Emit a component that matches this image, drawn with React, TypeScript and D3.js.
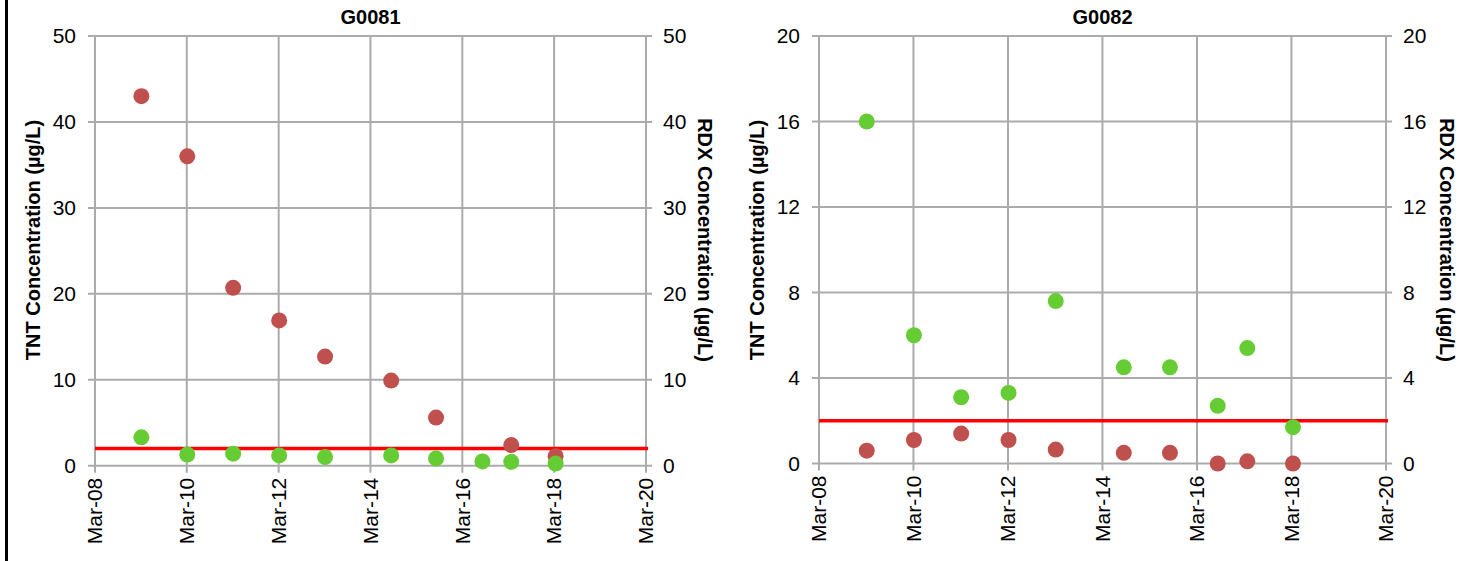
import React from "react";
import * as d3 from "d3";

// Sampling events shared by both wells
const sampleDates = [
  "2009-03-05", "2010-03-05", "2011-03-05", "2012-03-05", "2013-03-05",
  "2014-08-13", "2015-08-05", "2016-08-08", "2017-03-25", "2018-03-13",
];

// G0081 concentrations (µg/L); null = not sampled
const g0081Tnt: (number | null)[] = [43.0, 36.0, 20.7, 16.9, 12.7, 9.9, 5.6, null, 2.4, 1.1];
const g0081Rdx: (number | null)[] = [3.3, 1.3, 1.4, 1.2, 1.0, 1.2, 0.85, 0.5, 0.45, 0.25];

// G0082 concentrations (µg/L)
const g0082Tnt: (number | null)[] = [0.6, 1.1, 1.4, 1.1, 0.65, 0.5, 0.5, 0.0, 0.1, 0.0];
const g0082Rdx: (number | null)[] = [16.0, 6.0, 3.1, 3.3, 7.6, 4.5, 4.5, 2.7, 5.4, 1.7];

// Axis ticks
const tickYears = [2008, 2010, 2012, 2014, 2016, 2018, 2020];
const g0081YTicks = [0, 10, 20, 30, 40, 50];
const g0082YTicks = [0, 4, 8, 12, 16, 20];

// Screening level drawn as a horizontal reference line (µg/L)
const screeningLevel = 2;

const FONT = "'Liberation Sans', Arial, Helvetica, sans-serif";
const GRID = "#ababab";
const RED = "#C0504D";
const GREEN = "#66CC33";
const TICK_FS = 21;

type PanelProps = {
  title: string;
  x0: number;
  x1: number;
  yTop: number;
  yBottom: number;
  yTicks: number[];
  tnt: (number | null)[];
  rdx: (number | null)[];
  leftLabelX: number;
  rightLabelX: number;
};

function Panel({ title, x0, x1, yTop, yBottom, yTicks, tnt, rdx, leftLabelX, rightLabelX }: PanelProps) {
  const parse = d3.utcParse("%Y-%m-%d");
  const dates = sampleDates.map((s) => parse(s) as Date);
  const tickDates = tickYears.map((y) => new Date(Date.UTC(y, 2, 1)));
  const fmt = d3.utcFormat("%b-%y");

  const x = d3
    .scaleUtc()
    .domain([tickDates[0], tickDates[tickDates.length - 1]])
    .range([x0, x1]);
  const y = d3
    .scaleLinear()
    .domain([yTicks[0], yTicks[yTicks.length - 1]])
    .range([yBottom, yTop]);

  const midY = 240;

  const dots = (vals: (number | null)[], color: string, key: string) =>
    vals.map((v, i) =>
      v == null ? null : (
        <circle key={key + i} cx={x(dates[i])} cy={y(v)} r={8} fill={color} />
      )
    );

  return (
    <g>
      {/* horizontal gridlines + y ticks on both sides */}
      {yTicks.map((t) => (
        <g key={"h" + t}>
          <line x1={x0 - 7} x2={x1 + 6} y1={y(t)} y2={y(t)} stroke={GRID} strokeWidth={2} />
          <text x={x0 - 19} y={y(t)} dy="0.35em" textAnchor="end" fontSize={TICK_FS} fontFamily={FONT} fill="#000">
            {t}
          </text>
          <text x={x1 + 17} y={y(t)} dy="0.35em" textAnchor="start" fontSize={TICK_FS} fontFamily={FONT} fill="#000">
            {t}
          </text>
        </g>
      ))}
      {/* vertical gridlines + date ticks */}
      {tickDates.map((d, i) => (
        <g key={"v" + i}>
          <line x1={x(d)} x2={x(d)} y1={yTop} y2={yBottom + 7} stroke={GRID} strokeWidth={2} />
          <text
            transform={`translate(${x(d)},${yBottom + 12}) rotate(-90)`}
            dy="0.35em"
            textAnchor="end"
            fontSize={TICK_FS}
            fontFamily={FONT}
            fill="#000"
          >
            {fmt(d)}
          </text>
        </g>
      ))}
      {/* screening level */}
      <line
        x1={x0}
        x2={x1 + 2}
        y1={y(screeningLevel)}
        y2={y(screeningLevel)}
        stroke="#FF0000"
        strokeWidth={3.5}
      />
      {dots(tnt, RED, "t")}
      {dots(rdx, GREEN, "r")}
      {/* title */}
      <text x={(x0 + x1) / 2} y={24} textAnchor="middle" fontSize={20} fontWeight="bold" fontFamily={FONT}>
        {title}
      </text>
      {/* axis titles */}
      <text
        transform={`translate(${leftLabelX},${midY}) rotate(-90)`}
        dy="0.35em"
        textAnchor="middle"
        fontSize={20}
        fontWeight="bold"
        fontFamily={FONT}
      >
        TNT Concentration (µg/L)
      </text>
      <text
        transform={`translate(${rightLabelX},${midY}) rotate(90)`}
        dy="0.35em"
        textAnchor="middle"
        fontSize={20}
        fontWeight="bold"
        fontFamily={FONT}
      >
        RDX Concentration (µg/L)
      </text>
    </g>
  );
}

export default function App() {
  return (
    <svg
      width={1466}
      height={561}
      style={{ position: "absolute", left: 0, top: 0, background: "#fff" }}
    >
      <rect x={0} y={0} width={1466} height={561} fill="#fff" />
      <line x1={6.5} x2={6.5} y1={0} y2={561} stroke="#000" strokeWidth={3} />
      <Panel
        title="G0081"
        x0={95}
        x1={646}
        yTop={36}
        yBottom={465.7}
        yTicks={g0081YTicks}
        tnt={g0081Tnt}
        rdx={g0081Rdx}
        leftLabelX={33}
        rightLabelX={705}
      />
      <Panel
        title="G0082"
        x0={819}
        x1={1386}
        yTop={36}
        yBottom={463.5}
        yTicks={g0082YTicks}
        tnt={g0082Tnt}
        rdx={g0082Rdx}
        leftLabelX={757}
        rightLabelX={1447}
      />
    </svg>
  );
}
